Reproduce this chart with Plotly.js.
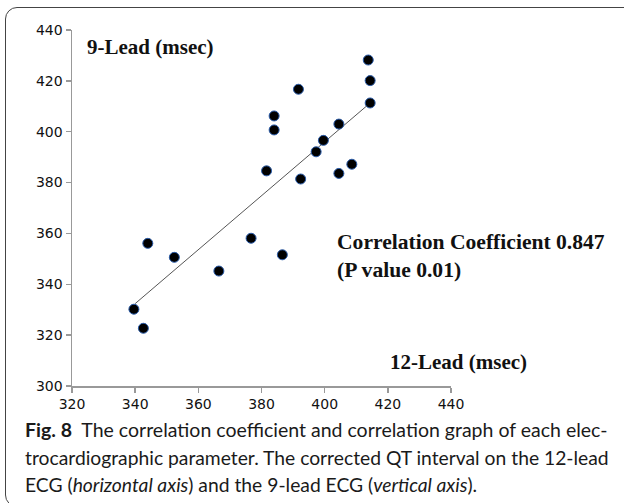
<!DOCTYPE html>
<html>
<head>
<meta charset="utf-8">
<script src="https://cdn.plot.ly/plotly-3.0.1.min.js"></script>
<style>
  html, body { margin: 0; padding: 0; background: #fff; }
  #wrap { position: relative; width: 624px; height: 503px; overflow: hidden; }
  #frame { position: absolute; left: 5px; top: 7px; width: 660px; height: 500px;
           border: 1.5px solid #444; border-radius: 12px; box-sizing: border-box; }
  #chart { position: absolute; left: 0; top: 0; width: 624px; height: 503px; }
</style>
</head>
<body>
<div id="wrap">
  <div id="frame"></div>
  <div id="chart"></div>
</div>
<script>
// 12-lead QTc (x) vs 9-lead QTc (y), msec
const lead12 = [339.6, 342.6, 344.0, 352.4, 366.5, 376.7, 381.6, 384.0, 384.0, 386.6,
                391.7, 392.4, 397.3, 399.6, 404.5, 404.5, 408.6, 413.8, 414.4, 414.4];
const lead9  = [330.2, 322.7, 356.1, 350.6, 345.2, 358.1, 384.6, 406.2, 400.7, 351.6,
                416.7, 381.4, 392.1, 396.6, 403.0, 383.6, 387.2, 428.2, 420.1, 411.3];
// trend line endpoints
const trendX = [340.0, 414.4];
const trendY = [332.4, 411.3];
const xTicks = [320, 340, 360, 380, 400, 420, 440];
const yTicks = [300, 320, 340, 360, 380, 400, 420, 440];

const serif = '"Liberation Serif", "Times New Roman", serif';
const capFont = 'Lato, "Open Sans", sans-serif';

const traces = [
  { x: trendX, y: trendY, mode: 'lines', type: 'scatter',
    line: { color: '#555', width: 1 }, hoverinfo: 'skip' },
  { x: lead12, y: lead9, mode: 'markers', type: 'scatter',
    marker: { size: 10, color: '#000', line: { color: '#2a5caa', width: 1 } } }
];

const layout = {
  width: 624, height: 503,
  margin: { l: 72, r: 173, t: 30, b: 117 },
  paper_bgcolor: 'rgba(0,0,0,0)', plot_bgcolor: 'rgba(0,0,0,0)',
  showlegend: false,
  font: { family: '"DejaVu Sans", Verdana, sans-serif', size: 14, color: '#111' },
  xaxis: {
    range: [320, 440], tickvals: xTicks, ticktext: xTicks.map(String),
    showgrid: false, zeroline: false, showline: true, linecolor: '#999', linewidth: 1.5,
    ticks: 'outside', ticklen: 5, tickcolor: '#999', tickwidth: 1.5
  },
  yaxis: {
    range: [300, 440], tickvals: yTicks, ticktext: yTicks.map(String),
    showgrid: false, zeroline: false, showline: true, linecolor: '#999', linewidth: 1.5,
    ticks: 'outside', ticklen: 5, tickcolor: '#999', tickwidth: 1.5
  },
  annotations: [
    { xref: 'paper', yref: 'paper', x: 0.034, y: 0.952, xanchor: 'left', yanchor: 'middle',
      showarrow: false, text: '<b>9-Lead (msec)</b>', font: { family: serif, size: 21, color: '#111' } },
    { xref: 'paper', yref: 'paper', x: 0.834, y: 0.067, xanchor: 'left', yanchor: 'middle',
      showarrow: false, text: '<b>12-Lead (msec)</b>', font: { family: serif, size: 21, color: '#111' } },
    { xref: 'paper', yref: 'paper', x: 0.694, y: 0.365, xanchor: 'left', yanchor: 'middle', align: 'left',
      showarrow: false, text: '<b>Correlation Coefficient 0.847<br>(P value 0.01)</b>',
      font: { family: serif, size: 21.6, color: '#111' } },
    { xref: 'paper', yref: 'paper', x: -0.129, y: -0.1208, xanchor: 'left', yanchor: 'middle', align: 'left',
      showarrow: false, text: '<b>Fig. 8</b>  The correlation coefficient and correlation graph of each elec-',
      font: { family: capFont, size: 19.5, color: '#1a1a1a' } },
    { xref: 'paper', yref: 'paper', x: -0.129, y: -0.2022, xanchor: 'left', yanchor: 'middle', align: 'left',
      showarrow: false, text: 'trocardiographic parameter. The corrected QT interval on the 12-lead',
      font: { family: capFont, size: 19.3, color: '#1a1a1a' } },
    { xref: 'paper', yref: 'paper', x: -0.129, y: -0.278, xanchor: 'left', yanchor: 'middle', align: 'left',
      showarrow: false, text: 'ECG (<i>horizontal axis</i>) and the 9-lead ECG (<i>vertical axis</i>).',
      font: { family: capFont, size: 19.3, color: '#1a1a1a' } }
  ]
};

Plotly.newPlot('chart', traces, layout, { displayModeBar: false, staticPlot: true });
</script>
</body>
</html>
